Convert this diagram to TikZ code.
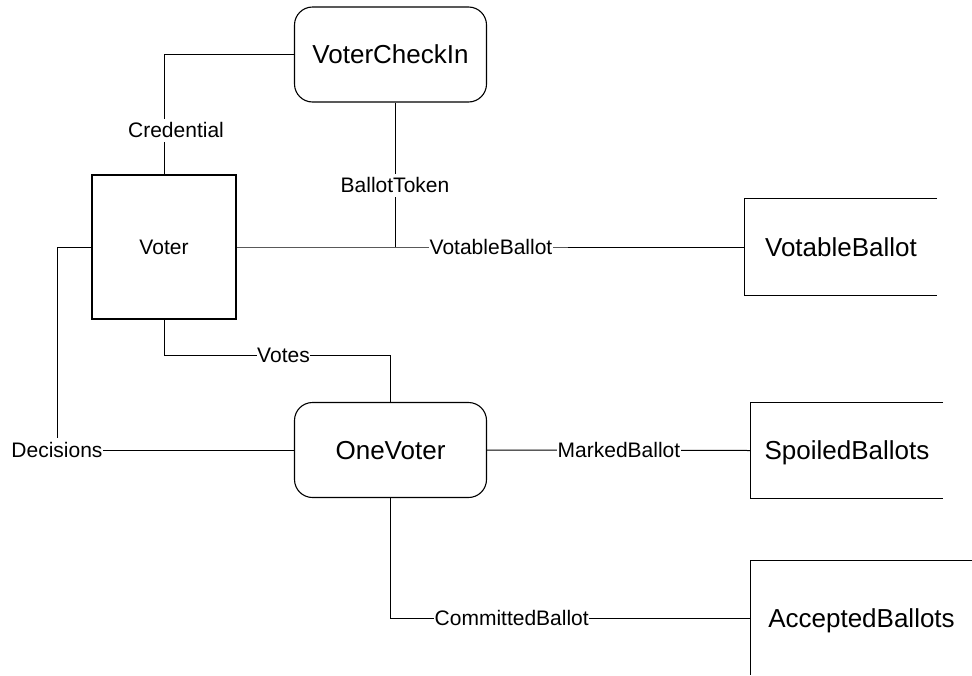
\documentclass[tikz,border=0pt]{standalone}
\usepackage{fontspec}
\setmainfont{Liberation Sans}
\usetikzlibrary{backgrounds}
\begin{document}
\begin{tikzpicture}[x=1pt,y=-1pt,
  proc/.style={draw, line width=1.1pt, rounded corners=18pt, minimum width=192pt, minimum height=95pt, inner sep=0pt, text height=18.6pt, text depth=0pt, font=\fontsize{26}{30}\selectfont},
  ent/.style={draw, line width=1.1pt, minimum width=144pt, minimum height=144pt, inner sep=0pt, text height=15pt, text depth=0pt, font=\fontsize{21}{25}\selectfont},
  store/.style={inner sep=0pt, text height=18.6pt, text depth=0pt, font=\fontsize{26}{30}\selectfont},
  lbl/.style={fill=white, inner xsep=0.5pt, inner ysep=4pt, text height=15pt, text depth=0pt, font=\fontsize{21}{25}\selectfont},
  conn/.style={line width=1pt},
  side/.style={line width=1.1pt}]
\useasboundingbox (0,0) rectangle (972,675);

% main nodes
\node[proc] (vci) at (390.5,54.5) {VoterCheckIn};
\node[ent] (voter) at (164,247) {Voter};
\node[proc] (ov) at (390.5,450) {OneVoter};
\node[store, minimum width=192pt, minimum height=96pt] (vb) at (841,247) {VotableBallot};
\node[store, minimum width=192pt, minimum height=95pt] (sb) at (847,450.5) {SpoiledBallots};
\node[store, minimum width=221pt, minimum height=114pt] (ab) at (861.5,618) {AcceptedBallots};

% open sides of the data stores
\draw[side] (vb.north east) -- (vb.north west) -- (vb.south west) -- (vb.south east);
\draw[side] (sb.north east) -- (sb.north west) -- (sb.south west) -- (sb.south east);
\draw[side] (ab.north east) -- (ab.north west) -- (ab.south west);

% labels
\node[lbl] (lcred) at (176,130) {Credential};
\node[lbl] (ltok) at (395,185) {BallotToken};
\node[lbl] (lvb) at (491,247) {VotableBallot};
\node[lbl] (lvotes) at (283.5,355) {Votes};
\node[lbl] (ldec) at (57,450) {Decisions};
\node[lbl] (lmb) at (619,450) {MarkedBallot};
\node[lbl] (lcb) at (511.7,618) {CommittedBallot};

\coordinate (jt) at (395,247);
\coordinate (cv) at (390.5,355);

\begin{pgfonlayer}{background}
\fill[white] (0,0) rectangle (972,675);
\draw[conn] (vci.west) -| (voter.north);
\draw[conn] (jt |- vci.south) -- (jt);
\draw[conn] (voter.east) -- (jt) -- (vb.west);
\draw[conn] (voter.south) |- (cv) -- (ov.north);
\draw[conn] (voter.west) -| (ldec.north);
\draw[conn] (ldec.east) -- (ov.west);
\draw[conn] (ov.east) -- (sb.west);
\draw[conn] (ov.south) |- (ab.west);
\end{pgfonlayer}
\end{tikzpicture}
\end{document}
